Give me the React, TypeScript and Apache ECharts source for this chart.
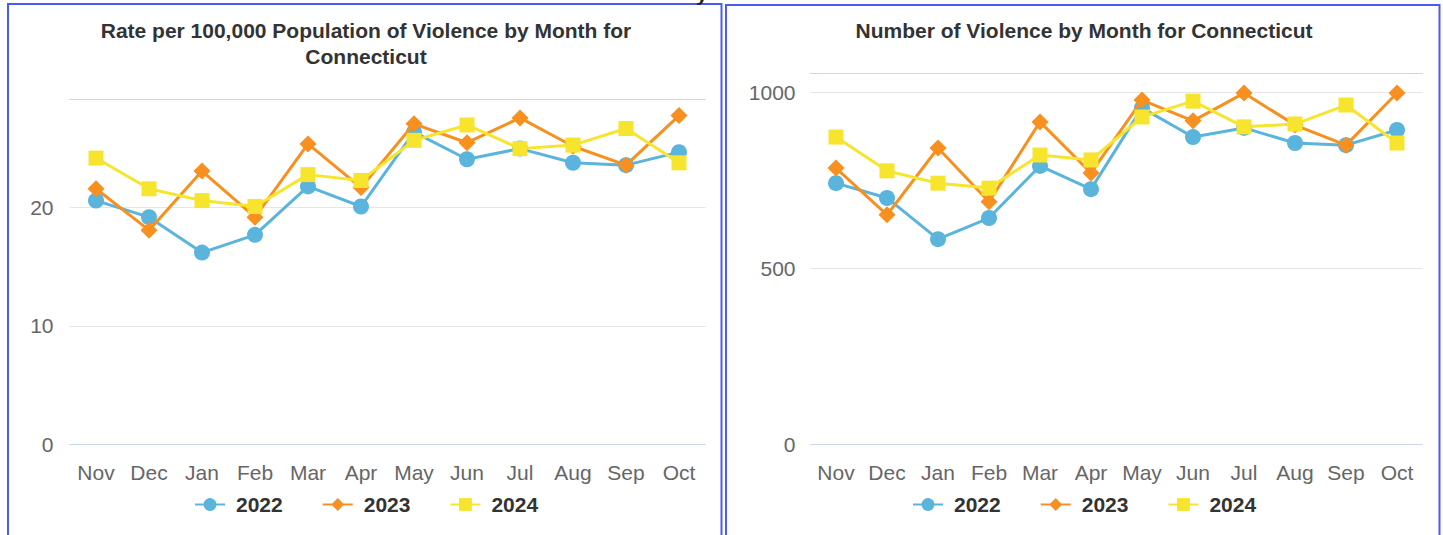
import React, { useEffect, useRef } from "react";
import * as echarts from "echarts";

const months = ["Nov", "Dec", "Jan", "Feb", "Mar", "Apr", "May", "Jun", "Jul", "Aug", "Sep", "Oct"];
const years = ["2022", "2023", "2024"];

const rate2022 = [20.6, 19.2, 16.2, 17.7, 21.8, 20.1, 26.4, 24.1, 25.0, 23.8, 23.6, 24.7];
const rate2023 = [21.6, 18.1, 23.1, 19.2, 25.4, 21.7, 27.1, 25.5, 27.6, 25.2, 23.6, 27.8];
const rate2024 = [24.2, 21.6, 20.6, 20.1, 22.8, 22.3, 25.7, 27.0, 25.0, 25.3, 26.7, 23.8];

const count2022 = [741, 699, 582, 642, 790, 724, 955, 872, 898, 855, 849, 892];
const count2023 = [784, 651, 841, 688, 915, 770, 977, 918, 997, 906, 849, 997];
const count2024 = [872, 776, 741, 727, 821, 807, 929, 974, 901, 909, 963, 855];

const leftTitle = "Rate per 100,000 Population of Violence by Month for\nConnecticut";
const rightTitle = "Number of Violence by Month for Connecticut";

const colors = ["#5ab4dc", "#f7901e", "#f6e52c"];
const symbols = ["circle", "diamond", "rect"];
const symbolSizes = [16, 17, 15];
const FONT = "Liberation Sans, Arial, sans-serif";

export default function App() {
  const ref = useRef<HTMLDivElement>(null);
  useEffect(() => {
    if (!ref.current) return;
    const chart = echarts.init(ref.current, undefined, { renderer: "svg" });

    const xBottom = (gridIndex: number) => ({
      type: "category",
      gridIndex,
      data: months,
      position: "bottom",
      boundaryGap: true,
      axisLine: { show: true, lineStyle: { color: "#ccd6eb", width: 1 } },
      axisTick: { show: false },
      axisLabel: { color: "#666666", fontSize: 21, fontFamily: FONT, margin: 18, interval: 0 },
      z: 5,
    });
    const xTop = (gridIndex: number) => ({
      type: "category",
      gridIndex,
      data: months,
      position: "top",
      axisLine: { show: true, lineStyle: { color: "#ccd6eb", width: 1 } },
      axisTick: { show: false },
      axisLabel: { show: false },
      z: 5,
    });
    const yAx = (gridIndex: number, max: number, interval: number, margin: number) => ({
      type: "value",
      gridIndex,
      min: 0,
      max,
      interval,
      axisLine: { show: false },
      axisTick: { show: false },
      axisLabel: {
        color: "#666666",
        fontSize: 21,
        fontFamily: FONT,
        margin,
        showMaxLabel: false,
        formatter: (v: number) => String(v),
      },
      splitLine: {
        show: true,
        showMaxLine: false,
        showMinLine: false,
        lineStyle: { color: "#e6e6e6", width: 1 },
      },
    });

    const mkSeries = (data: number[][], xAxisIndex: number, yAxisIndex: number) =>
      data.map((d, i) => ({
        type: "line",
        name: years[i],
        data: d,
        xAxisIndex,
        yAxisIndex,
        symbol: symbols[i],
        symbolSize: symbolSizes[i],
        showAllSymbol: true,
        lineStyle: { color: colors[i], width: 3 },
        itemStyle: { color: colors[i] },
        z: 10 + i,
      }));

    const legend = (left: number) => ({
      data: years,
      left,
      top: 489,
      orient: "horizontal",
      itemWidth: 30,
      itemHeight: 16,
      itemGap: 39,
      textStyle: {
        color: "#333333",
        fontSize: 21,
        fontWeight: "bold",
        fontFamily: FONT,
        padding: [0, 0, 0, 6],
      },
    });

    chart.setOption({
      animation: false,
      backgroundColor: "#ffffff",
      grid: [
        { left: 69.5, top: 99, width: 636, height: 345, containLabel: false },
        { left: 810.5, top: 73, width: 612, height: 371, containLabel: false },
      ],
      xAxis: [xBottom(0), xTop(0), xBottom(1), xTop(1)],
      yAxis: [yAx(0, 29.2, 10, 16), yAx(1, 1054, 500, 15)],
      legend: [legend(189), legend(907)],
      series: [
        ...mkSeries([rate2022, rate2023, rate2024], 0, 0),
        ...mkSeries([count2022, count2023, count2024], 2, 1),
      ],
      graphic: [
        {
          type: "rect",
          shape: { x: 8, y: 4, width: 713.5, height: 560 },
          style: { fill: "none", stroke: "#4a5cf0", lineWidth: 2 },
          silent: true,
        },
        {
          type: "rect",
          shape: { x: 726, y: 5, width: 713.5, height: 560 },
          style: { fill: "none", stroke: "#4a5cf0", lineWidth: 2 },
          silent: true,
        },
        {
          type: "text",
          x: 366,
          y: 17,
          style: {
            text: leftTitle,
            fill: "#333333",
            font: "bold 21px " + FONT,
            textAlign: "center",
            textVerticalAlign: "top",
            lineHeight: 26,
          },
        },
        {
          type: "text",
          x: 1084,
          y: 17,
          style: {
            text: rightTitle,
            fill: "#333333",
            font: "bold 21px " + FONT,
            textAlign: "center",
            textVerticalAlign: "top",
            lineHeight: 26,
          },
        },
        {
          type: "text",
          x: 696,
          y: -17,
          style: {
            text: "y",
            fill: "#222222",
            font: "bold 21px " + FONT,
            textAlign: "left",
            textVerticalAlign: "top",
          },
        },
      ],
    });
    return () => chart.dispose();
  }, []);
  return (
    <div
      ref={ref}
      style={{ position: "absolute", left: 0, top: 0, width: 1443, height: 535 }}
    />
  );
}
